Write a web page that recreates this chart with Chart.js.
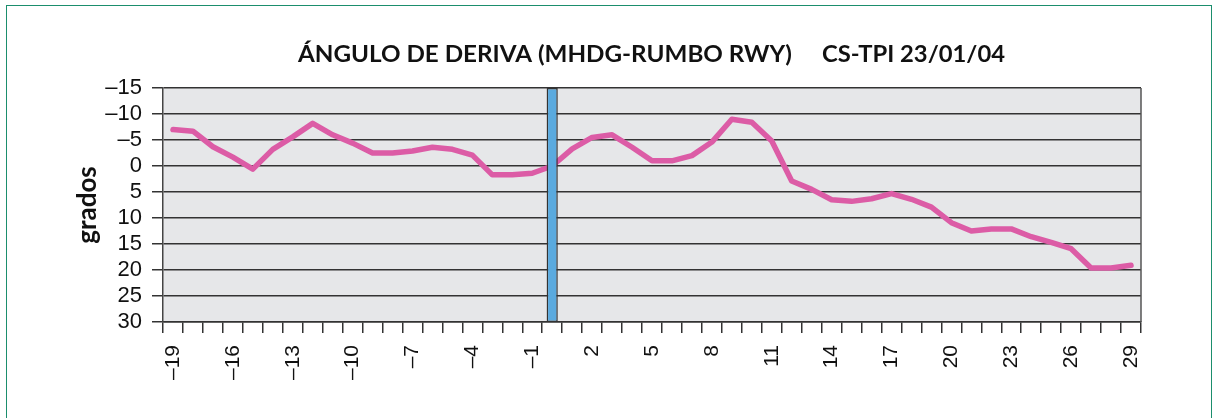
<!DOCTYPE html>
<html>
<head>
<meta charset="utf-8">
<script src="https://cdn.jsdelivr.net/npm/chart.js@4/dist/chart.umd.min.js"></script>
<style>
  html, body { margin: 0; padding: 0; background: #fff; }
  #wrap { position: relative; width: 1215px; height: 418px; overflow: hidden; }
  #frame { position: absolute; left: 6px; top: 5px; width: 1206px; height: 440px; border: 1.5px solid #1b8e6d; box-sizing: border-box; }
  #chart-box { position: absolute; left: 0; top: 0; width: 1215px; height: 418px; }
</style>
</head>
<body>
<div id="wrap">
  <div id="frame"></div>
  <div id="chart-box"><canvas id="drift-chart"></canvas></div>
</div>
<script>
// Chart data: drift angle per time step
const TITLE_LEFT = 'ÁNGULO DE DERIVA (MHDG-RUMBO RWY)';
const TITLE_RIGHT = 'CS-TPI 23/01/04';
const Y_TITLE = 'grados';

const categories = [
  -19, -18, -17, -16, -15, -14, -13, -12, -11, -10,
  -9, -8, -7, -6, -5, -4, -3, -2, -1, 0,
  1, 2, 3, 4, 5, 6, 7, 8, 9, 10,
  11, 12, 13, 14, 15, 16, 17, 18, 19, 20,
  21, 22, 23, 24, 25, 26, 27, 28, 29
];

const driftValues = [
  -7.0, -6.7, -3.7, -1.7, 0.6, -3.2, -5.6, -8.2, -6.0, -4.4,
  -2.5, -2.5, -2.9, -3.6, -3.2, -2.1, 1.7, 1.7, 1.4, 0.0,
  -3.3, -5.5, -6.0, -3.6, -1.0, -1.0, -2.0, -4.6, -9.0, -8.4,
  -4.8, 2.9, 4.5, 6.5, 6.8, 6.3, 5.3, 6.4, 7.9, 10.9,
  12.5, 12.1, 12.1, 13.6, 14.7, 15.9, 19.6, 19.6, 19.1
];

// tick labels shown on the x axis (every third step)
const xTickLabels = [-19, -16, -13, -10, -7, -4, -1, 2, 5, 8, 11, 14, 17, 20, 23, 26, 29];

const yMin = -15;
const yMax = 30;
const yStep = 5;

// vertical marker at step 0
const markerCategory = 0;

const dash = v => String(v).replace('-', '\u2013');

const markerData = categories.map(c => (c === markerCategory ? [yMin, yMax] : null));

const plotBg = {
  id: 'plotBg',
  beforeDraw(chart) {
    const { ctx, chartArea: a } = chart;
    ctx.save();
    ctx.fillStyle = '#e6e7e9';
    ctx.fillRect(a.left, a.top, a.right - a.left, a.bottom - a.top);
    ctx.restore();
  },
  beforeDatasetsDraw(chart) {
    const { ctx, chartArea: a } = chart;
    ctx.save();
    ctx.strokeStyle = '#555';
    ctx.lineWidth = 1.5;
    ctx.beginPath();
    ctx.moveTo(a.right, a.top);
    ctx.lineTo(a.right, a.bottom);
    ctx.stroke();
    ctx.restore();
  }
};

// the printed title is a bit wide, so stretch each part to its span
function drawStretched(ctx, text, x, y, width) {
  const w = ctx.measureText(text).width;
  ctx.save();
  ctx.translate(x, y);
  ctx.scale(width / w, 1);
  ctx.fillText(text, 0, 0);
  ctx.restore();
}

const titleText = {
  id: 'titleText',
  afterDraw(chart) {
    const { ctx, chartArea: a } = chart;
    ctx.save();
    ctx.font = 'bold 22px Lato';
    ctx.fillStyle = '#111';
    ctx.textBaseline = 'alphabetic';
    ctx.textAlign = 'left';
    drawStretched(ctx, TITLE_LEFT, a.left + 135, 62, 494);
    drawStretched(ctx, TITLE_RIGHT, a.left + 659, 62, 183);
    ctx.restore();
  }
};

Chart.defaults.font.family = '"Liberation Sans", Arial, sans-serif';
Chart.defaults.color = '#111';

new Chart(document.getElementById('drift-chart'), {
  data: {
    labels: categories,
    datasets: [
      {
        type: 'bar',
        data: markerData,
        backgroundColor: '#5aaadf',
        borderColor: '#333',
        borderWidth: 1.5,
        borderSkipped: false,
        barPercentage: 0.56,
        categoryPercentage: 1,
        grouped: false,
        order: 0
      },
      {
        type: 'line',
        data: driftValues,
        borderColor: '#dc5ca6',
        borderWidth: 5.5,
        pointRadius: 0,
        tension: 0,
        borderJoinStyle: 'round',
        borderCapStyle: 'round',
        order: 1
      }
    ]
  },
  options: {
    responsive: true,
    maintainAspectRatio: false,
    animation: false,
    layout: { padding: { top: 88, right: 74, left: 0, bottom: 0 } },
    plugins: { legend: { display: false }, tooltip: { enabled: false } },
    scales: {
      x: {
        type: 'category',
        offset: true,
        grid: { offset: true, drawOnChartArea: false, drawTicks: true, tickLength: 11, color: '#333', lineWidth: 1.5 },
        border: { display: true, color: '#333', width: 1.5 },
        ticks: {
          autoSkip: false,
          minRotation: 90,
          maxRotation: 90,
          padding: 12,
          font: { size: 21 },
          callback(value, index) {
            const c = categories[index];
            return xTickLabels.includes(c) ? dash(c) : '';
          }
        },
        afterFit(scale) { scale.height = 96; }
      },
      y: {
        reverse: true,
        min: yMin,
        max: yMax,
        grid: { color: '#333', lineWidth: 1.5, drawTicks: true, tickLength: 11 },
        border: { display: true, color: '#444', width: 1.5 },
        ticks: {
          stepSize: yStep,
          autoSkip: false,
          padding: 10,
          font: { size: 22 },
          callback: v => dash(v)
        },
        title: {
          display: true,
          text: Y_TITLE,
          font: { family: 'Lato', size: 26, weight: 'bold' },
          padding: { top: 72, bottom: 0 }
        },
        afterFit(scale) { scale.width = 163; }
      }
    }
  },
  plugins: [plotBg, titleText]
});
</script>
</body>
</html>
